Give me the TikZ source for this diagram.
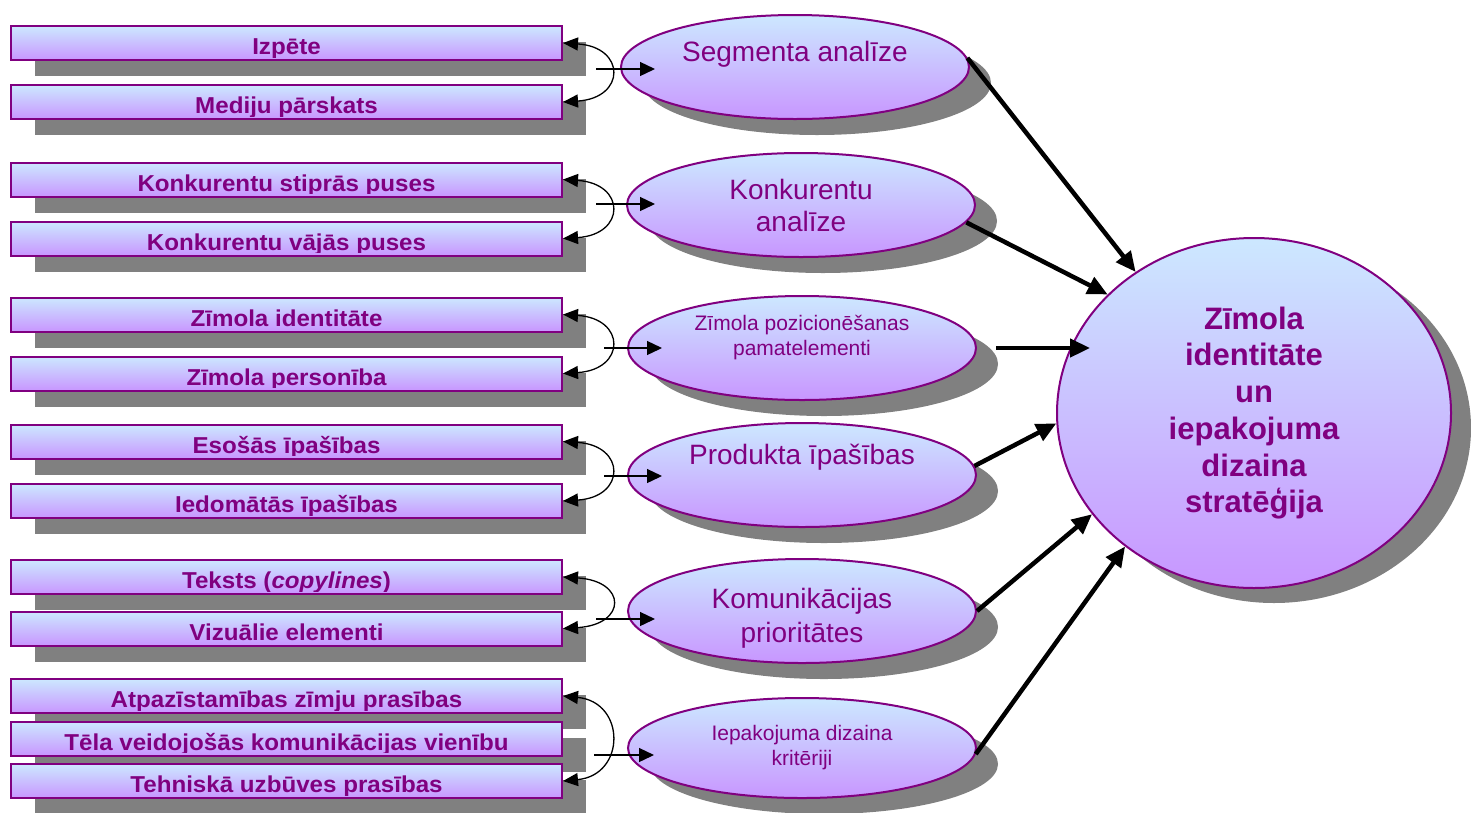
\documentclass[tikz,border=0pt]{standalone}
\usepackage{fontspec}
\setmainfont{Liberation Sans}
\newfontfamily\itemfont{Liberation Sans}[FakeStretch=1.05]
\usetikzlibrary{shapes.geometric,shadows,arrows.meta,calc}

\definecolor{ink}{HTML}{800080}
\definecolor{fillTop}{RGB}{204,232,255}
\definecolor{fillBot}{RGB}{200,150,255}
\definecolor{shadowgrey}{RGB}{128,128,128}

\tikzset{
  gradfill/.style={top color=fillTop, bottom color=fillBot, draw=ink, line width=2pt},
  itembox/.style={gradfill, rectangle, minimum width=551pt, minimum height=34pt, inner sep=0pt,
    drop shadow={shadow xshift=24pt, shadow yshift=-16pt, opacity=1, fill=shadowgrey}},
  itemtext/.style={anchor=base, inner sep=0pt, text=ink,
    font=\itemfont\bfseries\fontsize{23}{26}\selectfont},
  bubble/.style={gradfill, ellipse, minimum width=348pt, minimum height=104pt, inner sep=-10pt,
    align=center, text=ink, font=\fontsize{28}{32}\selectfont,
    drop shadow={shadow xshift=22pt, shadow yshift=-16pt, opacity=1, fill=shadowgrey}},
  smalltext/.style={font=\fontsize{21}{25}\selectfont},
  bigbubble/.style={gradfill, ellipse, minimum width=394pt, minimum height=350pt, inner sep=0pt,
    align=center, text=ink, font=\bfseries\fontsize{31}{36.7}\selectfont,
    drop shadow={shadow xshift=20pt, shadow yshift=-15pt, opacity=1, fill=shadowgrey}},
  pairarc/.style={line width=1.3pt, {Triangle[length=15pt,width=13pt]}-{Triangle[length=15pt,width=13pt]}},
  feedarrow/.style={line width=1.3pt, -{Triangle[length=15pt,width=14pt]}},
  mainarrow/.style={line width=4.5pt, -{Triangle[length=20pt,width=18pt]}},
}

% one list box: name, vertical centre, label (the label is clipped a little above the lower edge)
\newcommand\drawitem[3]{%
  \node[itembox] (#1) at (286.5,#2) {};
  \begin{scope}
    \clip ([xshift=1pt,yshift=4pt]#1.south west) rectangle ([xshift=-1pt,yshift=-1pt]#1.north east);
    \node[itemtext] (#1-text) at ([yshift=6.5pt]#1.south) {#3};
  \end{scope}}

\begin{document}
\begin{tikzpicture}[x=1pt,y=-1pt]
\useasboundingbox (0,0) rectangle (1471,812);

% left column of boxes
\drawitem{b1}{43}{Izpēte}
\drawitem{b2}{102}{Mediju pārskats}
\drawitem{b3}{179.5}{Konkurentu stiprās puses}
\drawitem{b4}{238.5}{Konkurentu vājās puses}
\drawitem{b5}{314.5}{Zīmola identitāte}
\drawitem{b6}{373.5}{Zīmola personība}
\drawitem{b7}{441.5}{Esošās īpašības}
\drawitem{b8}{501}{Iedomātās īpašības}
\drawitem{b9}{577}{Teksts (\textit{copylines})}
\drawitem{b10}{628.5}{Vizuālie elementi}
\drawitem{b11}{696}{Atpazīstamības zīmju prasības}
\drawitem{b12}{738.5}{Tēla veidojošās komunikācijas vienību}
\drawitem{b13}{781}{Tehniskā uzbūves prasības}

% middle column of ellipses
\node[bubble] (e1) at (795,67) {Segmenta analīze\\\mbox{}};
\node[bubble] (e2) at (801,205) {Konkurentu\\analīze};
\node[bubble, smalltext] (e3) at (802,348) {Zīmola pozicionēšanas\\pamatelementi\\\mbox{}};
\node[bubble] (e4) at (802,475) {Produkta īpašības\\[10pt]\mbox{}};
\node[bubble, font=\fontsize{28}{34}\selectfont] (e5) at (802,611) {\rule{0pt}{34pt}Komunikācijas\\prioritātes};
\node[bubble, smalltext, minimum height=100pt] (e6) at (802,748) {Iepakojuma dizaina\\kritēriji};

% result
\node[bigbubble] (big) at (1254,413) {Zīmola\\identitāte\\un\\iepakojuma\\dizaina\\stratēģija};

% arcs joining each group of boxes
\draw[pairarc] (b1.east) .. controls +(63,4) and +(63,-4) .. (b2.east);
\draw[pairarc] (b3.east) .. controls +(63,4) and +(63,-4) .. (b4.east);
\draw[pairarc] (b5.east) .. controls +(63,4) and +(63,-4) .. (b6.east);
\draw[pairarc] (b7.east) .. controls +(63,4) and +(63,-4) .. (b8.east);
\draw[pairarc] (b9.east) .. controls +(64,4) and +(64,-4) .. (b10.east);
\draw[pairarc] (b11.east) .. controls +(63,6) and +(63,-6) .. (b13.east);

% feeds from each group into its ellipse
\coordinate (f1s) at (596,69);  \coordinate (f1e) at (655,69);
\coordinate (f2s) at (596,204); \coordinate (f2e) at (655,204);
\coordinate (f3s) at (604,348); \coordinate (f3e) at (662,348);
\coordinate (f4s) at (604,476); \coordinate (f4e) at (662,476);
\coordinate (f5s) at (596,619); \coordinate (f5e) at (655,619);
\coordinate (f6s) at (594,755); \coordinate (f6e) at (654,755);
\draw[feedarrow] (f1s) -- (f1e);
\draw[feedarrow] (f2s) -- (f2e);
\draw[feedarrow] (f3s) -- (f3e);
\draw[feedarrow] (f4s) -- (f4e);
\draw[feedarrow] (f5s) -- (f5e);
\draw[feedarrow] (f6s) -- (f6e);

% ellipses into the result
\coordinate (a3s) at ([xshift=19pt]e3.east);
\coordinate (a3e) at (1090,348);
\draw[mainarrow] (e1.3) -- (big.130);
\draw[mainarrow] (e2.-6) -- (big.141);
\draw[mainarrow] (a3s) -- (a3e);
\draw[mainarrow] (e4.3) -- (big.183);
\draw[mainarrow] (e5.east) -- (big.212);
\draw[mainarrow] (e6.-2) -- (big.226);
\end{tikzpicture}
\end{document}
